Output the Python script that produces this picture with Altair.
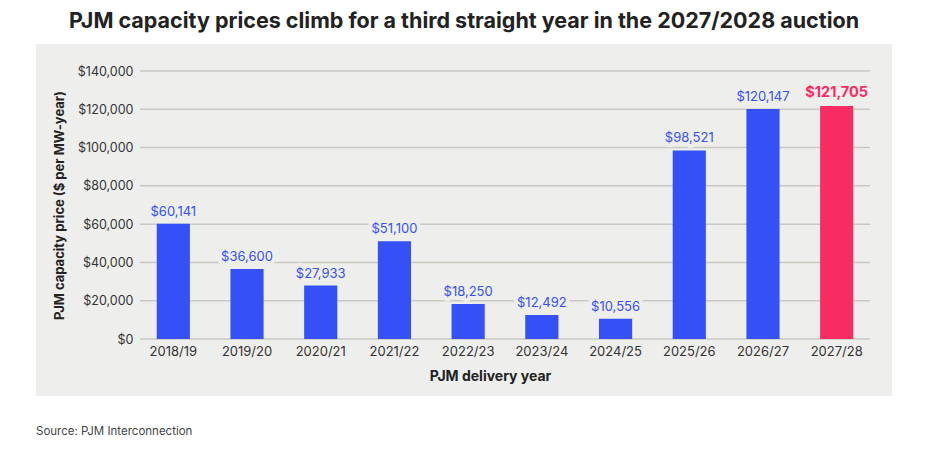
import altair as alt
import pandas as pd

years = ["2018/19", "2019/20", "2020/21", "2021/22", "2022/23",
         "2023/24", "2024/25", "2025/26", "2026/27", "2027/28"]
prices = [60141, 36600, 27933, 51100, 18250, 12492, 10556, 98521, 120147, 121705]
highlight = [False] * 9 + [True]
y_ticks = [0, 20000, 40000, 60000, 80000, 100000, 120000, 140000]

title_text = "PJM capacity prices climb for a third straight year in the 2027/2028 auction"
source_text = "Source: PJM Interconnection"

BLUE = "#3551f5"
PINK = "#f72c63"
BG = "#eeeeec"
GRID = "#c9c9c2"
FONT = "Inter"

W, H = 730, 268

df = pd.DataFrame({"year": years, "price": prices, "hl": highlight})
ticks_df = pd.DataFrame({"v": y_ticks})
one = pd.DataFrame({"k": [0]})

XTITLE = "PJM delivery year"
YTITLE = "PJM capacity price ($ per MW-year)"
xscale = alt.Scale(paddingInner=0.55, paddingOuter=0.227)
xaxis = alt.Axis(labelAngle=0, domain=False, ticks=False, zindex=1,
                 labelFont=FONT, labelFontSize=13, labelColor="#333333",
                 labelPadding=6, titleFont=FONT, titleFontSize=14,
                 titleFontWeight="bold", titleColor="#222222", titlePadding=11,
                 titleX=350, titleAlign="center")
yscale = alt.Scale(domain=[0, 140000], nice=False)
yaxis = alt.Axis(values=y_ticks, format="$,.0f", grid=False, domain=False,
                 ticks=False, zindex=1, labelOverlap=False,
                 labelFont=FONT, labelFontSize=12.5, labelColor="#333333",
                 labelPadding=7, titleFont=FONT, titleFontSize=13,
                 titleFontWeight="bold", titleColor="#222222", titlePadding=11)


def X():
    return alt.X("year:N", sort=years, title=XTITLE, scale=xscale, axis=xaxis)


def Y(field="price"):
    return alt.Y(f"{field}:Q", scale=yscale, title=YTITLE, axis=yaxis)


panel = alt.Chart(one).mark_rect(color=BG, clip=False).encode(
    x=alt.value(-104), x2=alt.value(752), y=alt.value(-27), y2=alt.value(325))

grid = alt.Chart(ticks_df).mark_rule(color=GRID, strokeWidth=1.5).encode(
    y=Y("v"), x=alt.value(0), x2=alt.value(W))

bars = alt.Chart(df).mark_bar().encode(
    x=X(), y=Y(),
    color=alt.condition("datum.hl", alt.value(PINK), alt.value(BLUE)))

base_txt = alt.Chart(df).encode(
    x=X(), y=Y(), text=alt.Text("price:Q", format="$,.0f"))

normal = base_txt.transform_filter("!datum.hl")
hl = base_txt.transform_filter("datum.hl")

halo_n = normal.mark_text(baseline="bottom", dy=-5, font=FONT, fontSize=13,
                          color=BG, stroke=BG, strokeWidth=8, strokeJoin="round")
lab_n = normal.mark_text(baseline="bottom", dy=-5, font=FONT, fontSize=13, color=BLUE)
halo_h = hl.mark_text(baseline="bottom", dy=-6, font=FONT, fontSize=14.5, fontWeight="bold",
                      color=BG, stroke=BG, strokeWidth=8, strokeJoin="round")
lab_h = hl.mark_text(baseline="bottom", dy=-6, font=FONT, fontSize=14.5, fontWeight="bold",
                     color=PINK)

title = alt.Chart(one).mark_text(font=FONT, fontSize=21.5, fontWeight="bold",
                                 color="#222222", align="center", baseline="alphabetic").encode(
    x=alt.value(324), y=alt.value(-43), text=alt.value(title_text))

source = alt.Chart(one).mark_text(font=FONT, fontSize=11.5, color="#444444",
                                  align="left", baseline="middle").encode(
    x=alt.value(-104), y=alt.value(361), text=alt.value(source_text))

chart = alt.layer(panel, grid, bars, halo_n, lab_n, halo_h, lab_h, title, source).properties(
    width=W, height=H,
    autosize=alt.AutoSizeParams(type="none"),
    padding={"left": 132, "top": 63, "right": 58, "bottom": 103},
    background="white",
).configure_view(stroke=None)

chart.save("out.html", embed_options={"renderer": "svg", "actions": False})
